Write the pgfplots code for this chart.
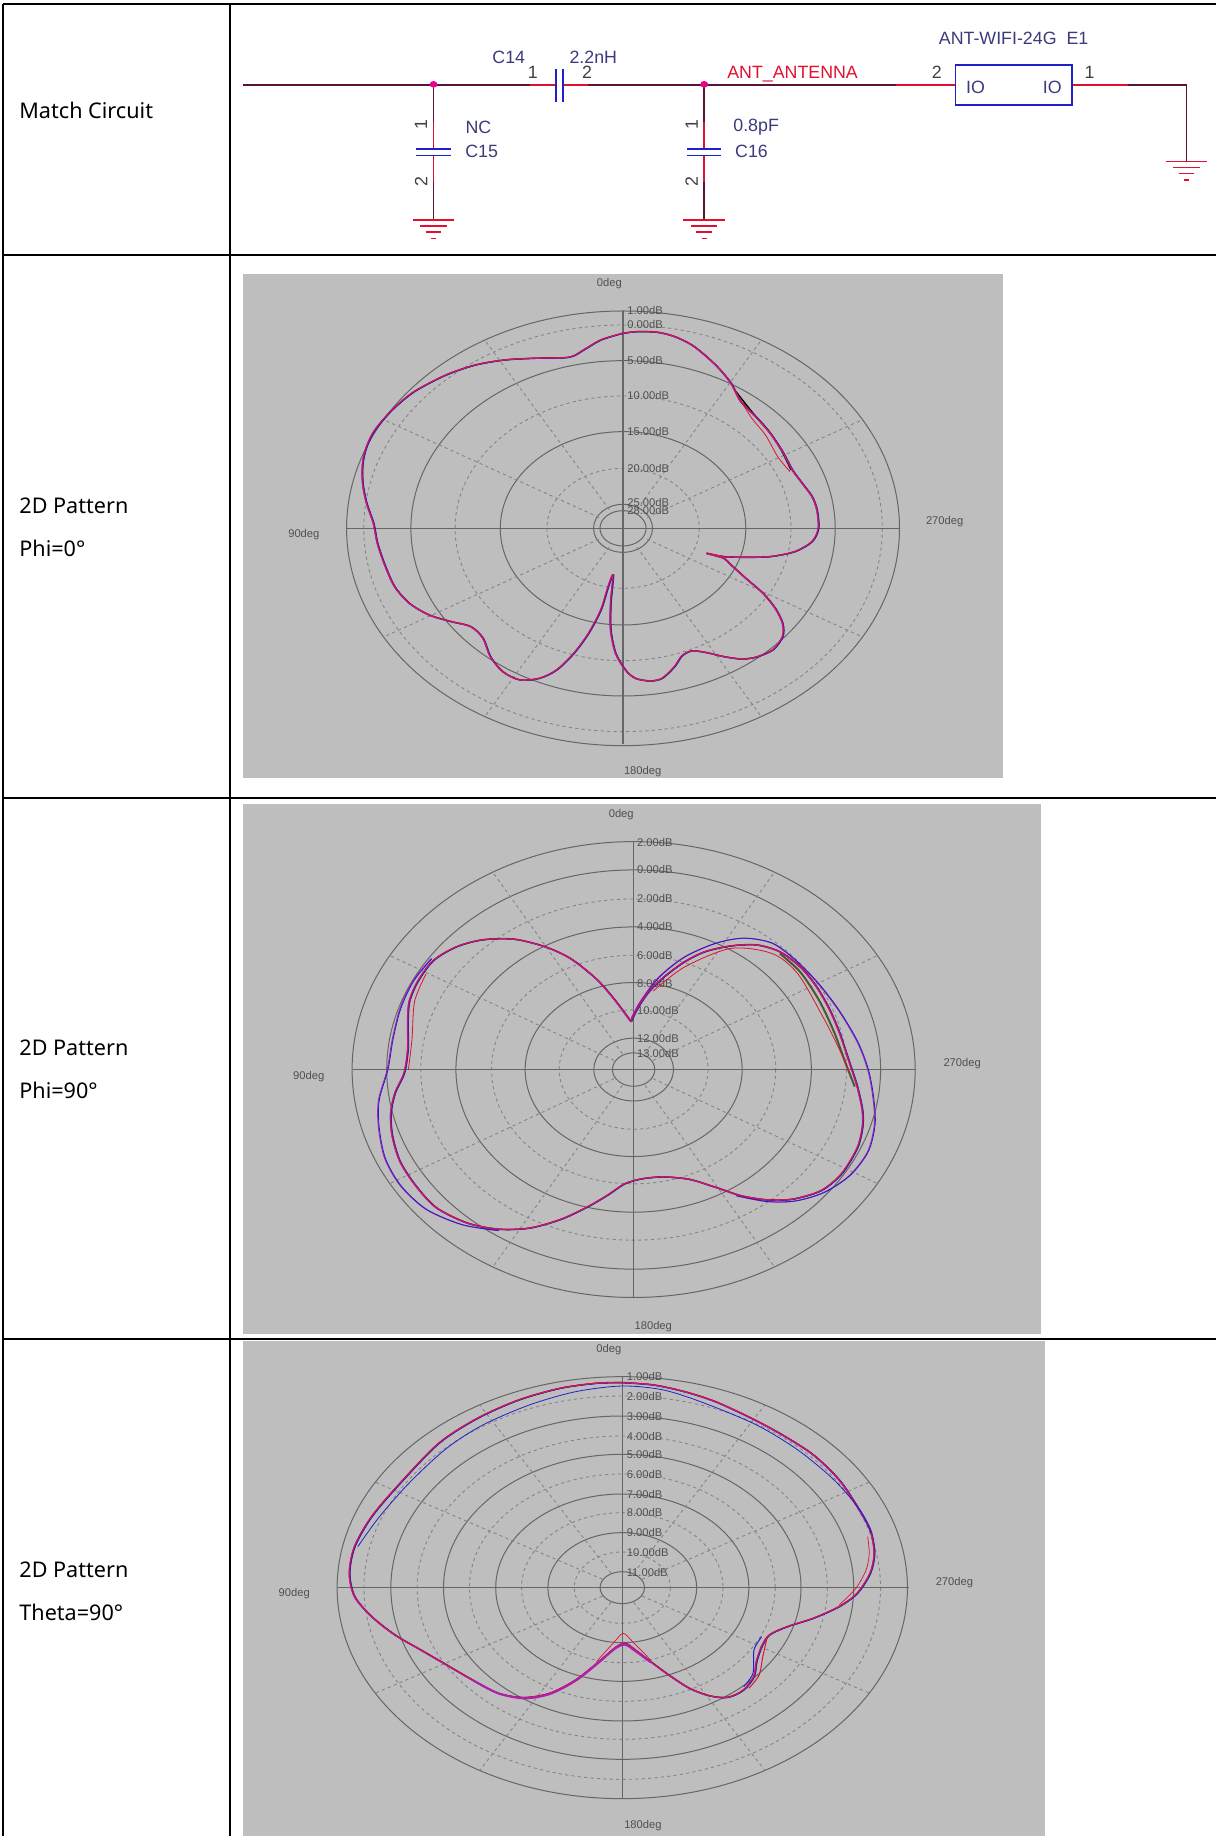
\documentclass[border=0pt]{standalone}
\usepackage{fontspec}
\setmainfont{Liberation Sans}
\newfontfamily\cellfont{Noto Sans}
\usepackage{pgfplots}
\usepackage{pgfplotstable}
\pgfplotsset{compat=1.18}
\definecolor{imggrey}{HTML}{BEBEBE}
\definecolor{ringc}{HTML}{666666}
\definecolor{dashc}{HTML}{858585}
\definecolor{wire}{HTML}{5A1238}
\definecolor{navy}{HTML}{3A3A7C}
\definecolor{pred}{HTML}{E01030}
\definecolor{pblue}{HTML}{2020C8}
\definecolor{pmag}{HTML}{B020B0}
\definecolor{polive}{HTML}{4A5A30}
\definecolor{labc}{HTML}{505050}
\pgfplotsset{sub/.style={hide axis,scale only axis,clip=false,y dir=reverse,xmin=0,xmax=1568}}
\tikzset{sol/.style={ringc,line width=.5pt},
 das/.style={dashc,line width=.45pt,dash pattern=on 1.6pt off 1.6pt},
 plab/.style={font=\fontsize{5.6}{6}\selectfont,text=labc,inner sep=0pt},
 clab/.style={font=\fontsize{8.9}{10}\selectfont,text=navy,inner sep=0pt},
 cell/.style={font=\cellfont\fontsize{10.8}{12}\selectfont,anchor=west,inner sep=0pt},
 w/.style={wire,line width=.8pt},r/.style={pred,line width=.8pt},b/.style={pblue,line width=.8pt}}
\newcommand\ring[5]{\draw[#5] (axis cs:#1,#2) ellipse [x radius=#3,y radius=#4];}
\newcommand\spokes[5]{\pgfplotsinvokeforeach{30,60,120,150,210,240,300,330}{\draw[das] (axis cs:{#1+#5*#3*cos(##1)},{#2+#5*#4*sin(##1)}) -- (axis cs:{#1+#3*cos(##1)},{#2+#4*sin(##1)});}}
\newcommand\gnd[2]{%
 \draw[r] (axis cs:#1-27,#2) -- (axis cs:#1+27,#2);
 \draw[r] (axis cs:#1-17,#2+18) -- (axis cs:#1+17,#2+18);
 \draw[r] (axis cs:#1-10,#2+36) -- (axis cs:#1+10,#2+36);
 \draw[r] (axis cs:#1-3,#2+55) -- (axis cs:#1+3,#2+55);}
\newcommand\shunt[1]{%
 \draw[w] (axis cs:#1,255) -- (axis cs:#1,365);
 \draw[r] (axis cs:#1,365) -- (axis cs:#1,447);
 \draw[r] (axis cs:#1,466) -- (axis cs:#1,545);
 \draw[w] (axis cs:#1,545) -- (axis cs:#1,660);
 \draw[b] (axis cs:#1-22,447) -- (axis cs:#1+22,447);
 \draw[b] (axis cs:#1-22,466) -- (axis cs:#1+22,466);
 \fill[magenta] (axis cs:#1,253) ellipse [x radius=5,y radius=10];
 \node[clab,text=black!75,rotate=90] at (axis cs:#1-16,375) {1};
 \node[clab,text=black!75,rotate=90] at (axis cs:#1-16,545) {2};
 \gnd{#1}{660}}
% ---------- pattern 1 (Phi=0)
\pgfplotstableread{
x y
780 190
810 185
850 187
885 200
920 225
950 260
975 295
1000 340
1020 395
1050 440
1080 490
1105 545
1125 600
1145 640
1165 680
1175 720
1178 775
1165 815
1130 845
1080 860
1030 862
985 860
950 850
985 865
1000 885
1030 925
1065 970
1090 1015
1105 1060
1105 1100
1085 1140
1050 1162
1020 1167
985 1160
950 1148
920 1143
900 1158
885 1190
860 1225
835 1233
805 1225
785 1200
765 1150
755 1080
755 1000
760 915
750 950
735 1020
710 1090
680 1150
645 1200
610 1225
570 1230
535 1205
510 1160
495 1105
470 1070
430 1055
385 1035
345 1000
315 950
295 885
280 820
272 760
258 700
250 640
250 580
258 530
275 480
310 420
355 365
420 315
480 285
540 270
600 265
670 262
700 240
735 210
780 190
}\pa
\pgfplotstableread{
x y
1005 355
1040 440
1070 495
1095 560
1120 605
}\paR
\pgfplotstableread{
x y
1010 365
1045 430
1075 480
1102 540
1122 600
}\paK
% ---------- pattern 2 (Phi=90)
\pgfplotstableread{
x y
757 650
770 610
790 565
820 520
860 475
900 445
950 428
1000 425
1045 445
1085 490
1115 545
1140 610
1160 680
1180 770
1195 840
1205 910
1205 960
1195 1020
1165 1095
1125 1145
1070 1170
1020 1172
970 1160
920 1135
870 1112
820 1105
780 1110
745 1125
710 1160
670 1195
620 1230
560 1255
500 1258
440 1240
380 1195
340 1130
310 1060
295 985
292 920
300 860
318 800
325 730
325 650
328 590
345 530
375 470
420 430
470 410
530 408
590 430
640 465
690 525
725 585
757 650
}\pb
\pgfplotstableread{
x y
757 640
775 590
810 520
860 460
920 420
975 405
1030 420
1075 470
1120 540
1160 620
1195 710
1215 790
1225 870
1228 950
1215 1030
1180 1100
1130 1150
1075 1175
1020 1177
960 1160
}\pbOr
\pgfplotstableread{
x y
500 1262
430 1245
360 1200
310 1130
280 1050
268 960
268 880
285 790
295 700
310 610
335 530
370 465
}\pbOl
\pgfplotstableread{
x y
800 560
860 490
950 435
1030 450
1080 510
1130 640
1160 730
1180 800
}\pbIr
\pgfplotstableread{
x y
360 510
338 590
333 700
326 790
}\pbIl
\pgfplotstableread{
x y
1045 450
1085 505
1122 590
1150 680
1172 770
1190 840
}\pbG
% ---------- pattern 3 (Theta=90)
\pgfplotstableread{
x y
740 128
800 135
860 155
920 185
990 235
1050 285
1110 345
1160 420
1195 500
1220 570
1228 640
1220 700
1195 760
1160 800
1110 835
1060 860
1025 885
1010 920
1000 965
995 1010
975 1050
945 1072
910 1068
870 1045
830 1005
795 965
765 930
745 910
725 925
695 965
650 1020
600 1060
550 1073
500 1060
450 1020
400 975
350 930
300 885
255 830
222 770
212 700
222 620
255 530
310 430
385 310
460 235
540 180
620 145
690 130
740 128
}\pc
\pgfplotstableread{
x y
1222 580
1200 510
1150 420
1080 330
1000 255
900 190
820 150
740 138
650 155
560 195
470 255
400 325
330 425
270 530
228 620
}\pcB
\pgfplotstableread{
x y
450 1020
500 1060
550 1075
600 1062
650 1022
695 967
725 927
745 914
765 933
795 967
}\pcP
\pgfplotstableread{
x y
1010 890
995 930
993 1000
975 1040
}\pcBb
\pgfplotstableread{
x y
1020 895
1012 950
1005 1005
985 1045
}\pcRb
\pgfplotstableread{
x y
1215 590
1218 640
1212 690
1192 745
1160 795
}\pcRr
\pgfplotstableread{
x y
690 965
725 905
742 880
760 905
795 960
}\pcRn
\newcommand\traces[1]{%
 \addplot[black,line width=.7pt,smooth,no markers] table {#1};
 \addplot[pblue,line width=.45pt,smooth,no markers,xshift=.3pt] table {#1};
 \addplot[pmag,line width=.55pt,smooth,no markers,xshift=-.25pt] table {#1};
 \addplot[pred,line width=.35pt,smooth,no markers,yshift=.25pt] table {#1};}
\begin{document}
\begin{tikzpicture}
\path[use as bounding box] (0,0) rectangle (608pt,918pt);
% ---------- table frame and left column
\begin{axis}[hide axis,scale only axis,clip=false,y dir=reverse,at={(0,0)},anchor=south west,
 width=608pt,height=918pt,xmin=0,xmax=1216,ymin=0,ymax=1836]
\fill[imggrey] (axis cs:243,274) rectangle (axis cs:1003,778);
\fill[imggrey] (axis cs:243,804) rectangle (axis cs:1041,1334);
\fill[imggrey] (axis cs:243,1341) rectangle (axis cs:1045,1836);
\draw[black,line width=.6pt] (axis cs:3,4) -- (axis cs:1216,4);
\draw[black,line width=.6pt] (axis cs:3,255) -- (axis cs:1216,255);
\draw[black,line width=.6pt] (axis cs:3,798) -- (axis cs:1216,798);
\draw[black,line width=.6pt] (axis cs:3,1339) -- (axis cs:1216,1339);
\draw[black,line width=.6pt] (axis cs:3,4) -- (axis cs:3,1836);
\draw[black,line width=.6pt] (axis cs:230,4) -- (axis cs:230,1836);
\node[cell] at (axis cs:19,110) {Match Circuit};
\node[cell] at (axis cs:19,506) {2D Pattern};
\node[cell] at (axis cs:19,548) {Phi=0°};
\node[cell] at (axis cs:19,1048) {2D Pattern};
\node[cell] at (axis cs:19,1090) {Phi=90°};
\node[cell] at (axis cs:19,1570) {2D Pattern};
\node[cell] at (axis cs:19,1612) {Theta=90°};
\end{axis}
% ---------- circuit
\begin{axis}[sub,at={(0,788pt)},anchor=south west,width=608pt,height=130pt,ymin=0,ymax=780]
\draw[w] (axis cs:313,255) -- (axis cs:683,255);
\draw[r] (axis cs:683,255) -- (axis cs:717,255);
\draw[r] (axis cs:726,255) -- (axis cs:758,255);
\draw[w] (axis cs:758,255) -- (axis cs:1155,255);
\draw[r] (axis cs:1155,255) -- (axis cs:1232,255);
\draw[r] (axis cs:1382,255) -- (axis cs:1455,255);
\draw[w] (axis cs:1455,255) -- (axis cs:1530,255) -- (axis cs:1530,483);
\draw[b] (axis cs:717,207) -- (axis cs:717,305);
\draw[b] (axis cs:726,207) -- (axis cs:726,305);
\draw[pblue,line width=.9pt] (axis cs:1232,196) rectangle (axis cs:1382,315);
\shunt{559}
\shunt{908}
\gnd{1530}{485}
\node[clab] at (axis cs:1307,115) {ANT-WIFI-24G\ \ E1};
\node[clab] at (axis cs:656,172) {C14};
\node[clab] at (axis cs:765,172) {2.2nH};
\node[clab,text=black!75] at (axis cs:687,218) {1};
\node[clab,text=black!75] at (axis cs:757,218) {2};
\node[clab,text=pred] at (axis cs:1022,222) {ANT\_ANTENNA};
\node[clab] at (axis cs:617,382) {NC};
\node[clab] at (axis cs:621,453) {C15};
\node[clab] at (axis cs:975,382) {0.8pF};
\node[clab] at (axis cs:969,453) {C16};
\node[clab,text=black!75] at (axis cs:1208,217) {2};
\node[clab,text=black!75] at (axis cs:1405,217) {1};
\node[clab] at (axis cs:1258,263) {IO};
\node[clab] at (axis cs:1357,263) {IO};
\end{axis}
% ---------- pattern Phi=0
\begin{axis}[sub,at={(120pt,528pt)},anchor=south west,width=385pt,height=255pt,ymin=0,ymax=1530]
\ring{780}{775}{563}{652}{sol}
\ring{780}{775}{528}{610}{das}
\ring{780}{775}{432}{503}{sol}
\ring{780}{775}{342}{397}{das}
\ring{780}{775}{250}{290}{sol}
\ring{780}{775}{155}{180}{das}
\ring{780}{775}{60}{72}{sol}
\ring{780}{775}{47}{53}{sol}
\spokes{780}{775}{563}{652}{0.1}
\draw[sol] (axis cs:217,775) -- (axis cs:1342,775);
\draw[ringc,line width=1.1pt] (axis cs:780,122) -- (axis cs:780,1423);
\node[plab] at (axis cs:752,40) {0deg};
\node[plab] at (axis cs:1435,755) {270deg};
\node[plab] at (axis cs:130,795) {90deg};
\node[plab] at (axis cs:820,1505) {180deg};
\node[plab,anchor=west] at (axis cs:788,122) {1.00dB};
\node[plab,anchor=west] at (axis cs:788,165) {0.00dB};
\node[plab,anchor=west] at (axis cs:788,272) {5.00dB};
\node[plab,anchor=west] at (axis cs:788,378) {10.00dB};
\node[plab,anchor=west] at (axis cs:788,485) {15.00dB};
\node[plab,anchor=west] at (axis cs:788,595) {20.00dB};
\node[plab,anchor=west] at (axis cs:788,697) {25.00dB};
\node[plab,anchor=west] at (axis cs:788,722) {28.00dB};
\addplot[black,line width=.7pt,smooth,no markers] table {\paK};
\traces{\pa}
\addplot[pred,line width=.4pt,smooth,no markers] table {\paR};
\end{axis}
% ---------- pattern Phi=90
\begin{axis}[sub,at={(120pt,250.5pt)},anchor=south west,width=405pt,height=267.5pt,ymin=0,ymax=1568]
\ring{762}{790}{545}{668}{sol}
\ring{762}{790}{478}{585}{sol}
\ring{762}{790}{412}{500}{das}
\ring{762}{790}{344}{418}{sol}
\ring{762}{790}{275}{335}{das}
\ring{762}{790}{210}{255}{sol}
\ring{762}{790}{144}{175}{das}
\ring{762}{790}{77}{92}{sol}
\ring{762}{790}{41}{49}{sol}
\spokes{762}{790}{545}{668}{0.08}
\draw[sol] (axis cs:218,790) -- (axis cs:1308,790);
\draw[sol] (axis cs:762,122) -- (axis cs:762,1460);
\node[plab] at (axis cs:738,42) {0deg};
\node[plab] at (axis cs:1398,773) {270deg};
\node[plab] at (axis cs:133,810) {90deg};
\node[plab] at (axis cs:800,1543) {180deg};
\node[plab,anchor=west] at (axis cs:768,125) {2.00dB};
\node[plab,anchor=west] at (axis cs:768,205) {0.00dB};
\node[plab,anchor=west] at (axis cs:768,290) {2.00dB};
\node[plab,anchor=west] at (axis cs:768,372) {4.00dB};
\node[plab,anchor=west] at (axis cs:768,455) {6.00dB};
\node[plab,anchor=west] at (axis cs:768,538) {8.00dB};
\node[plab,anchor=west] at (axis cs:768,618) {10.00dB};
\node[plab,anchor=west] at (axis cs:768,700) {12.00dB};
\node[plab,anchor=west] at (axis cs:768,742) {13.00dB};
\addplot[pmag,line width=.5pt,smooth,no markers] table {\pbOr};
\addplot[pblue,line width=.4pt,smooth,no markers,xshift=.4pt] table {\pbOr};
\addplot[pmag,line width=.5pt,smooth,no markers] table {\pbOl};
\addplot[pblue,line width=.4pt,smooth,no markers,xshift=.4pt] table {\pbOl};
\addplot[polive,line width=1pt,smooth,no markers] table {\pbG};
\traces{\pb}
\addplot[pred,line width=.4pt,smooth,no markers] table {\pbIr};
\addplot[pred,line width=.4pt,smooth,no markers] table {\pbIl};
\end{axis}
% ---------- pattern Theta=90
\begin{axis}[sub,at={(120pt,0pt)},anchor=south west,width=405pt,height=248pt,ymin=0,ymax=1488]
\ring{740}{743}{552}{633}{sol}
\ring{740}{743}{500}{575}{das}
\ring{740}{743}{448}{515}{sol}
\ring{740}{743}{397}{455}{das}
\ring{740}{743}{346}{400}{sol}
\ring{740}{743}{296}{341}{das}
\ring{740}{743}{245}{281}{sol}
\ring{740}{743}{195}{225}{das}
\ring{740}{743}{144}{165}{sol}
\ring{740}{743}{93}{107}{das}
\ring{740}{743}{43}{48}{sol}
\spokes{740}{743}{552}{633}{0.08}
\draw[sol] (axis cs:190,743) -- (axis cs:1295,743);
\draw[sol] (axis cs:740,110) -- (axis cs:740,1375);
\node[plab] at (axis cs:714,30) {0deg};
\node[plab] at (axis cs:1383,727) {270deg};
\node[plab] at (axis cs:105,760) {90deg};
\node[plab] at (axis cs:780,1458) {180deg};
\node[plab,anchor=west] at (axis cs:748,110) {1.00dB};
\node[plab,anchor=west] at (axis cs:748,168) {2.00dB};
\node[plab,anchor=west] at (axis cs:748,228) {3.00dB};
\node[plab,anchor=west] at (axis cs:748,288) {4.00dB};
\node[plab,anchor=west] at (axis cs:748,343) {5.00dB};
\node[plab,anchor=west] at (axis cs:748,402) {6.00dB};
\node[plab,anchor=west] at (axis cs:748,462) {7.00dB};
\node[plab,anchor=west] at (axis cs:748,518) {8.00dB};
\node[plab,anchor=west] at (axis cs:748,578) {9.00dB};
\node[plab,anchor=west] at (axis cs:748,636) {10.00dB};
\node[plab,anchor=west] at (axis cs:748,697) {11.00dB};
\addplot[pred,line width=.35pt,smooth,no markers] table {\pcRn};
\traces{\pc}
\addplot[pblue,line width=.4pt,smooth,no markers] table {\pcB};
\addplot[pmag,line width=1pt,smooth,no markers] table {\pcP};
\addplot[pblue,line width=.5pt,smooth,no markers] table {\pcBb};
\addplot[pred,line width=.5pt,smooth,no markers] table {\pcRb};
\addplot[pred,line width=.35pt,smooth,no markers] table {\pcRr};
\end{axis}
\end{tikzpicture}
\end{document}
